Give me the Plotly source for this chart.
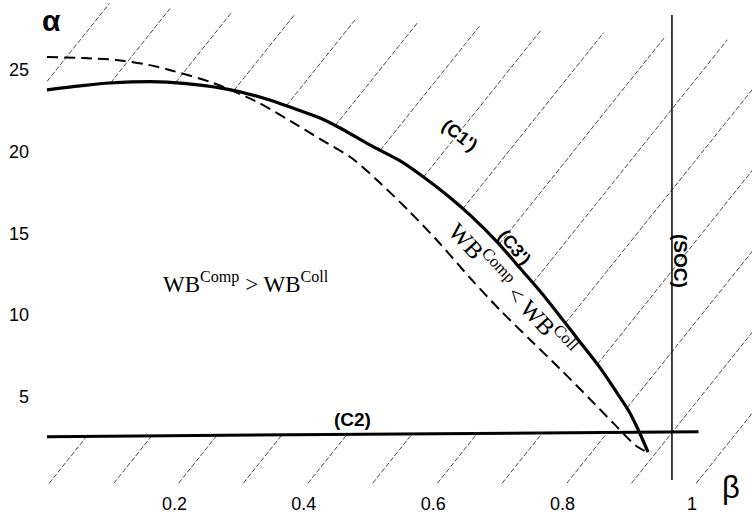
import numpy as np
import plotly.graph_objects as go

# ---- data ----
# (C1') solid boundary curve
beta_c1 = [0.003, 0.054, 0.100, 0.189, 0.281, 0.332, 0.383, 0.425, 0.456, 0.502, 0.549, 0.587,
           0.623, 0.657, 0.699, 0.734, 0.770, 0.822, 0.858, 0.884, 0.904, 0.917, 0.932]
alpha_c1 = [23.77, 24.01, 24.19, 24.25, 23.82, 23.33, 22.66, 22.05, 21.44, 20.40, 19.42, 18.38,
            17.28, 16.11, 14.46, 12.87, 11.22, 8.59, 6.76, 5.23, 4.0, 2.96, 1.61]

# (C3') dashed curve
beta_c3 = [0.003, 0.060, 0.110, 0.160, 0.198, 0.260, 0.328, 0.379, 0.425, 0.476, 0.518, 0.564, 0.611,
           0.657, 0.703, 0.750, 0.796, 0.842, 0.881, 0.912, 0.930]
alpha_c3 = [25.78, 25.72, 25.60, 25.30, 24.93, 24.19, 23.03, 21.87, 20.77, 19.54, 18.07, 16.30, 14.34,
            12.26, 10.31, 8.47, 6.70, 4.86, 3.27, 2.04, 1.62]

# (C2) horizontal line
beta_c2 = [0.003, 1.01]
alpha_c2 = [2.55, 2.85]

# (SOC) vertical line
beta_soc = [0.969, 0.969]
alpha_soc = [-0.1, 28.35]

x_ticks = [0.2, 0.4, 0.6, 0.8, 1.0]
x_ticktext = ["0.2", "0.4", "0.6", "0.8", "1"]
y_ticks = [5, 10, 15, 20, 25]
y_ticktext = ["5", "10", "15", "20", "25"]

# ---- hatching (decoration computed from the curves) ----
hatch_slope = 49.5           # alpha per beta unit along a hatch line
hatch_spacing = 0.1
hatch_start = -0.535
hatch_ref_alpha = 2.6
hatch_bottom = -0.3
hatch_top_beta = [0.1, 1.08]
hatch_top_alpha = [28.96, 26.8]

hx, hy = [], []
b = hatch_start
while b < 1.25:
    al = np.linspace(hatch_bottom, 29.5, 1500)
    be = b + (al - hatch_ref_alpha) / hatch_slope
    top = np.interp(be, hatch_top_beta, hatch_top_alpha, left=hatch_top_alpha[0] + 0.2)
    top = np.where(be > hatch_top_beta[1], hatch_top_alpha[1] - 2.2 * (be - hatch_top_beta[1]), top)
    c2v = np.interp(be, beta_c2, alpha_c2)
    c1v = np.interp(be, beta_c1, alpha_c1)
    excluded = (be <= beta_c1[-1]) & (al > c2v) & (al < c1v)
    keep = (al <= top) & (be >= beta_c1[0]) & (~excluded)
    run = False
    for xv, yv, k in zip(be, al, keep):
        if k:
            hx.append(float(xv)); hy.append(float(yv)); run = True
        elif run:
            hx.append(None); hy.append(None); run = False
    if run:
        hx.append(None); hy.append(None)
    b += hatch_spacing

fig = go.Figure()
fig.add_trace(go.Scatter(x=hx, y=hy, mode="lines",
                         line=dict(color="#333", width=0.9, dash="5px,2px"),
                         hoverinfo="skip", showlegend=False))
fig.add_trace(go.Scatter(x=beta_c3, y=alpha_c3, mode="lines", line_shape="spline",
                         line=dict(color="black", width=2, dash="11px,6px", smoothing=0.8),
                         showlegend=False))
fig.add_trace(go.Scatter(x=beta_c1, y=alpha_c1, mode="lines", line_shape="spline",
                         line=dict(color="black", width=3.2, smoothing=0.8), showlegend=False))
fig.add_trace(go.Scatter(x=beta_c2, y=alpha_c2, mode="lines",
                         line=dict(color="black", width=3), showlegend=False))
fig.add_trace(go.Scatter(x=beta_soc, y=alpha_soc, mode="lines",
                         line=dict(color="black", width=1.5), showlegend=False))

sans = "Liberation Sans, Arial, sans-serif"
serif = "Liberation Serif, Times New Roman, serif"

ann = [
    dict(x=0.311, y=12.0, text="WB<sup>Comp</sup> > WB<sup>Coll</sup>", textangle=0,
         font=dict(family=serif, size=23, color="black")),
    dict(x=0.724, y=11.6, text="WB<sup>Comp</sup> < WB<sup>Coll</sup>", textangle=47,
         font=dict(family=serif, size=24, color="black")),
    dict(x=0.64, y=21.0, text="<b>(C1')</b>", textangle=38,
         font=dict(family=sans, size=18, color="black")),
    dict(x=0.725, y=14.15, text="<b>(C3')</b>", textangle=50,
         font=dict(family=sans, size=18, color="black")),
    dict(x=0.983, y=13.3, text="<b>(SOC)</b>", textangle=90,
         font=dict(family=sans, size=19, color="black")),
    dict(x=0.476, y=3.6, text="<b>(C2)</b>", textangle=0,
         font=dict(family=sans, size=19, color="black")),
]
for a in ann:
    a.update(xref="x", yref="y", showarrow=False, xanchor="center", yanchor="middle")
    fig.add_annotation(**a)

# plot area spans x 30..752 px, y 0..488 px
fig.add_annotation(x=0.03, y=0.959, xref="paper", yref="paper", text="<b>α</b>", showarrow=False,
                   font=dict(family=sans, size=30, color="black"), xanchor="center", yanchor="middle")
fig.add_annotation(x=0.971, y=0.002, xref="paper", yref="paper", text="β", showarrow=False,
                   font=dict(family=sans, size=31, color="black"), xanchor="center", yanchor="middle")

fig.update_layout(
    width=752, height=518,
    margin=dict(l=30, r=0, t=0, b=30),
    plot_bgcolor="white", paper_bgcolor="white",
    xaxis=dict(range=[-0.0232, 1.0927], tickvals=x_ticks, ticktext=x_ticktext,
               showgrid=False, zeroline=False, showline=False, ticks="",
               ticklabelstandoff=3,
               tickfont=dict(family=sans, size=18, color="black")),
    yaxis=dict(range=[-0.59, 29.27], tickvals=y_ticks, ticktext=y_ticktext,
               showgrid=False, zeroline=False, showline=False, ticks="",
               tickfont=dict(family=sans, size=18, color="black")),
)
fig.write_html("out.html", config={"displayModeBar": False},
               post_script="document.body.style.margin='0px';")
